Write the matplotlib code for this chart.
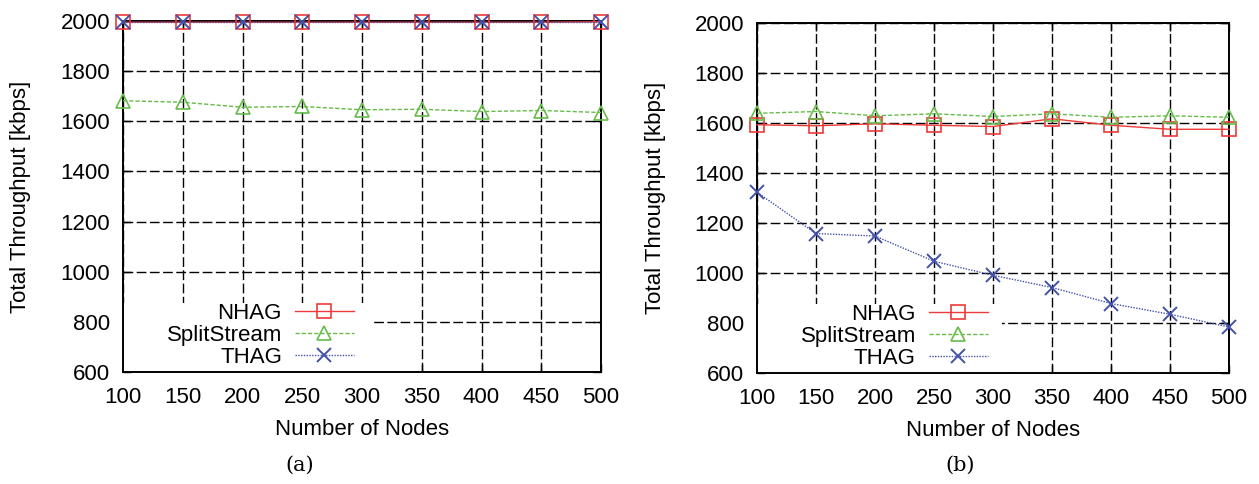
import matplotlib.pyplot as plt
from matplotlib.patches import Rectangle

plt.rcParams['font.family'] = ['Liberation Sans', 'DejaVu Sans']

# data
nodes = [100, 150, 200, 250, 300, 350, 400, 450, 500]

nhag_a = [1995, 1995, 1995, 1995, 1995, 1995, 1995, 1995, 1997]
split_a = [1682, 1676, 1656, 1659, 1646, 1648, 1639, 1643, 1635]
thag_a = [1995, 1995, 1995, 1995, 1995, 1995, 1995, 1995, 1995]

nhag_b = [1593, 1589, 1597, 1591, 1586, 1617, 1591, 1575, 1575]
split_b = [1639, 1646, 1629, 1637, 1626, 1637, 1623, 1629, 1623]
thag_b = [1323, 1158, 1148, 1047, 991, 942, 878, 835, 784]

yticks = [600, 800, 1000, 1200, 1400, 1600, 1800, 2000]
panel_labels = ['(a)', '(b)']

RED = '#f03a3a'
GREEN = '#66bb4a'
BLUE = '#4252a8'
FS = 16

fig = plt.figure(figsize=(12.59, 4.84), dpi=100)
ax_a = fig.add_axes([0.0977, 0.2314, 0.3797, 0.7252])
ax_b = fig.add_axes([0.6013, 0.2293, 0.3749, 0.7231])


def draw_panel(ax, nhag, split, thag, leg_x, box_w):
    ax.plot(nodes, nhag, color=RED, lw=1.0, ls='-', marker='s', ms=10,
            mfc='none', mec=RED, mew=1.2, label='NHAG', clip_on=False, zorder=3)
    ax.plot(nodes, split, color=GREEN, lw=1.0, ls=(0, (3, 1.5)), marker='^', ms=10,
            mfc='none', mec=GREEN, mew=1.2, label='SplitStream', clip_on=False, zorder=3)
    ax.plot(nodes, thag, color=BLUE, lw=1.0, ls=(0, (1, 1)), marker='x', ms=10,
            mec=BLUE, mew=1.4, label='THAG', clip_on=False, zorder=3)
    ax.set_xlim(100, 500)
    ax.set_ylim(600, 2000)
    ax.set_xticks(nodes)
    ax.set_yticks(yticks)
    ax.tick_params(labelsize=FS, direction='in', length=6, width=1.0,
                   top=True, right=True, colors='black')
    ax.tick_params(axis='y', pad=9.4)
    ax.tick_params(axis='x', pad=10.5)
    ax.grid(True, color='black', ls=(0, (7, 2.5)), lw=1.0)
    for s in ax.spines.values():
        s.set_linewidth(1.4)
        s.set_zorder(2.5)
    ax.set_xlabel('Number of Nodes', fontsize=FS)
    ax.set_ylabel('Total Throughput [kbps]', fontsize=FS)
    ax.xaxis.set_label_coords(0.5, -0.133)
    ax.yaxis.set_label_coords(-0.192, 0.5)

    # white block under the legend hides the grid there
    ax.add_patch(Rectangle((0, 0), box_w, 0.197, transform=ax.transAxes,
                           facecolor='white', edgecolor='none', zorder=2))
    leg = ax.legend(loc='lower right', bbox_to_anchor=(leg_x, 0.011),
                    markerfirst=False, fontsize=FS, handlelength=2.65,
                    handletextpad=0.59, labelspacing=0.05, borderpad=0.0,
                    borderaxespad=0.0, frameon=False)
    leg.set_zorder(4)
    for t in leg.get_texts():
        t.set_ha('right')


draw_panel(ax_a, nhag_a, split_a, thag_a, 0.483, 0.52)
draw_panel(ax_b, nhag_b, split_b, thag_b, 0.489, 0.519)

fig.text(0.2383, 0.039, panel_labels[0], fontsize=15, family='DejaVu Serif',
         ha='center', va='center')
fig.text(0.7625, 0.039, panel_labels[1], fontsize=15, family='DejaVu Serif',
         ha='center', va='center')

fig.savefig('out.png', dpi=100)
